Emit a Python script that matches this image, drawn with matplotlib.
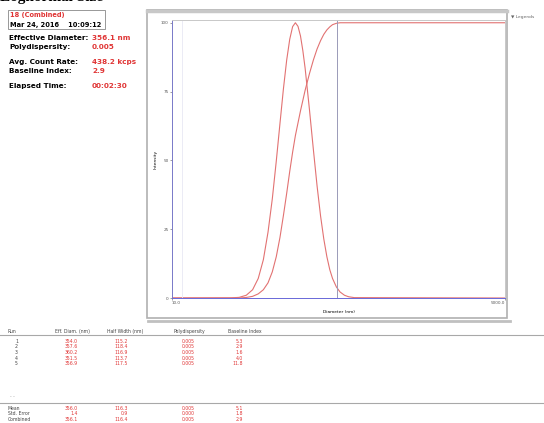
import matplotlib
matplotlib.use("Agg")
import matplotlib.pyplot as plt
import numpy as np

W, H = 544, 423

# distribution (diameter nm, intensity %)
diam = [10, 30, 35, 40, 45, 50, 55, 60, 65, 70, 75, 80, 85, 90, 95, 100, 105, 110, 115, 120,
        130, 140, 150, 160, 170, 180, 190, 200, 215, 230, 250, 270, 300, 5000]
intensity = [0, 0.05, 0.23, 1.0, 3.0, 7.1, 13.9, 23.9, 36.0, 49.7, 63.4, 76.0, 86.4, 94.0, 98.6, 100, 98.7, 95.2, 89.8, 83.4,
             68.5, 53.8, 40.6, 29.8, 21.4, 15.0, 10.3, 7.1, 4.0, 2.2, 1.0, 0.45, 0.14, 0]

# cumulative curve
cum_diam = [10, 35, 40, 45, 50, 55, 60, 65, 70, 75, 80, 85, 90, 95, 100, 110, 120, 130, 140, 150,
            160, 170, 180, 190, 200, 215, 230, 5000]
cumulative = [0, 0, 0.2, 0.6, 1.5, 3, 5.5, 9.5, 15, 22, 30, 38, 46, 53, 59, 68, 75.5, 81.5, 86.5, 90.5,
              93.5, 95.8, 97.4, 98.5, 99.3, 99.8, 100, 100]

xlim = (10.0, 5000.0)
yticks = [0, 25, 50, 75, 100]
cutoff = 217

info_labels = ["Effective Diameter:", "Polydispersity:", "Avg. Count Rate:", "Baseline Index:", "Elapsed Time:"]
info_values = ["356.1 nm", "0.005", "438.2 kcps", "2.9", "00:02:30"]

headers = ["Run", "Eff. Diam. (nm)", "Half Width (nm)", "Polydispersity", "Baseline Index"]
runs = ["1", "2", "3", "4", "5"]
eff_diam = ["354.0", "357.6", "360.2", "351.5", "356.9"]
half_width = ["115.2", "118.4", "116.9", "113.7", "117.5"]
polydisp = ["0.005", "0.005", "0.005", "0.005", "0.005"]
baseline = ["5.3", "2.9", "1.6", "4.0", "11.8"]
stat_names = ["Mean", "Std. Error", "Combined"]
stat_diam = ["356.0", "1.4", "356.1"]
stat_hw = ["116.3", "0.9", "116.4"]
stat_pd = ["0.005", "0.000", "0.005"]
stat_bi = ["5.1", "1.8", "2.9"]

red = "#e03535"
curve = "#e27272"


def fx(px):
    return px / W


def fy(py):
    return 1 - py / H


def txt(px, py, s, **kw):
    kw.setdefault("fontsize", 4)
    kw.setdefault("va", "center")
    fig.text(fx(px), fy(py), s, **kw)


fig = plt.figure(figsize=(W / 100, H / 100), dpi=100)
fig.patch.set_facecolor("white")

# cut-off title at the very top (as in the screenshot)
txt(0, -3, "Lognormal Size", fontsize=11, fontweight="bold", family="Liberation Serif")

# info block
fig.add_artist(plt.Rectangle((fx(8), fy(29)), fx(97), 19 / H, fill=False, ec="#888888", lw=0.6))
txt(10, 15, "18 (Combined)", color=red, fontsize=4.8, fontweight="bold")
txt(10, 25, "Mar 24, 2016    10:09:12", fontsize=4.8, fontweight="bold")
rows_y = [38, 47, 62, 71, 86]
for lab, val, yy in zip(info_labels, info_values, rows_y):
    txt(9, yy, lab, fontsize=5.2, fontweight="bold")
    txt(92, yy, val, fontsize=5.2, fontweight="bold", color=red)

# chart panel frame and legend panel
fig.add_artist(plt.Rectangle((fx(147), fy(318)), fx(360), 308 / H, fill=False, ec="#b0b0b0", lw=1.2))
fig.add_artist(plt.Line2D([fx(147), fx(507)], [fy(11), fy(11)], color="#c8c8c8", lw=2.5))
txt(511, 17, "\u25bc Legends", fontsize=3.2, color="#666666")

ax = fig.add_axes([fx(172), fy(298), fx(505 - 172), (298 - 20) / H])
ax.set_xscale("log")
ax.plot(diam, intensity, color=curve, lw=0.8)
ax.plot(cum_diam, cumulative, color=curve, lw=0.8)
ax.axvline(cutoff, color="#9a9ab8", lw=0.7)
ax.axvline(12, color="#e8e8f4", lw=0.6)
ax.set_xlim(*xlim)
ax.set_ylim(0, 101)
ax.set_yticks(yticks)
ax.set_yticklabels([str(v) for v in yticks], fontsize=3)
ax.set_xticks(list(xlim))
ax.set_xticklabels(["10.0", "5000.0"], fontsize=3)
ax.xaxis.set_minor_locator(matplotlib.ticker.NullLocator())
ax.tick_params(length=1.5, width=0.4, pad=1, colors="#555555")
ax.get_xticklabels()[0].set_ha("left")
ax.get_xticklabels()[1].set_ha("right")
ax.set_xlabel("Diameter (nm)", fontsize=3.2, labelpad=3)
ax.set_ylabel("Intensity", fontsize=3.2, labelpad=2)
ax.spines["left"].set_color("#7878c8")
ax.spines["bottom"].set_color("#6868d8")
ax.spines["top"].set_color("#c8c8c8")
ax.spines["right"].set_color("#c8c8c8")
for s in ax.spines.values():
    s.set_linewidth(0.7)

# table
fig.add_artist(plt.Line2D([fx(148), fx(510)], [fy(321), fy(321)], color="#c0c0c0", lw=2))
col_x = [8, 55, 107, 173, 228]
val_x = [78, 128, 195, 243]
for hx, hdr in zip(col_x, headers):
    txt(hx, 331, hdr, fontsize=3.3, color="#444444")
fig.add_artist(plt.Line2D([0, 1], [fy(335), fy(335)], color="#a8a8a8", lw=0.8))
row_y = [341, 347, 352, 358, 363]
for i, yy in enumerate(row_y):
    txt(15, yy, runs[i], fontsize=3.3, color="#444444")
    for vx, col in zip(val_x, [eff_diam, half_width, polydisp, baseline]):
        txt(vx, yy, col[i], fontsize=3.3, color=red, ha="right")
txt(10, 396, "- -", fontsize=3.3, color="#999999")
fig.add_artist(plt.Line2D([0, 1], [fy(403), fy(403)], color="#a8a8a8", lw=0.8))
for i, yy in enumerate([408, 413, 419]):
    txt(8, yy, stat_names[i], fontsize=3.3, color="#444444")
    for vx, col in zip(val_x, [stat_diam, stat_hw, stat_pd, stat_bi]):
        txt(vx, yy, col[i], fontsize=3.3, color=red, ha="right")

fig.savefig("out.png", dpi=100, facecolor="white")
